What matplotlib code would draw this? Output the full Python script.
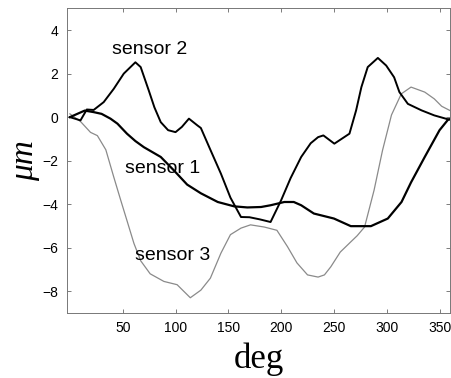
import matplotlib.pyplot as plt

# sensor curves (deg, um)
deg_s1 = [0, 14, 22.5, 30, 38.4, 45, 54, 62, 70, 86, 98.5, 111, 124, 140, 155.5, 168, 181, 190,
          203, 212, 219, 231, 250, 266, 285, 301, 314, 323, 336, 350, 358, 360]
um_s1 = [0, 0.3, 0.23, 0.15, -0.07, -0.3, -0.76, -1.1, -1.38, -1.83, -2.45, -3.1, -3.5, -3.9, -4.1,
         -4.15, -4.13, -4.05, -3.9, -3.9, -4.05, -4.43, -4.66, -5.01, -5.01, -4.66, -3.9, -3.0,
         -1.83, -0.6, -0.12, -0.1]

deg_s2 = [0, 10, 16, 22.5, 32, 41.5, 51, 62, 67, 74.7, 80, 86, 93, 100, 106, 112.7, 120.7, 124,
          133, 143, 152, 162, 170, 180, 190, 200, 209, 219, 228, 235, 240, 250.4, 264.7, 271,
          276, 282, 291.6, 299.5, 307, 312, 320, 333, 345, 358, 360]
um_s2 = [0, -0.15, 0.35, 0.33, 0.69, 1.3, 2.0, 2.52, 2.3, 1.22, 0.45, -0.23, -0.6, -0.69, -0.45,
         -0.07, -0.38, -0.5, -1.5, -2.6, -3.7, -4.59, -4.6, -4.7, -4.82, -3.82, -2.8, -1.83, -1.2,
         -0.92, -0.84, -1.22, -0.76, 0.31, 1.38, 2.3, 2.72, 2.37, 1.83, 1.15, 0.61, 0.31, 0.08,
         -0.1, -0.1]

deg_s3 = [0, 10, 19.5, 26, 34, 41.5, 48, 54, 60.6, 67, 76, 89, 101.5, 114, 124, 133, 143, 152,
          162, 171, 184, 196, 206, 215, 225, 235, 241, 247, 256, 266, 272, 279, 288, 296, 304.5,
          313.8, 323, 336, 345, 352, 360]
um_s3 = [0.15, -0.2, -0.7, -0.85, -1.5, -2.75, -3.8, -4.75, -5.8, -6.6, -7.2, -7.55, -7.7, -8.3,
         -7.95, -7.4, -6.25, -5.4, -5.1, -4.95, -5.05, -5.2, -5.95, -6.7, -7.25, -7.35, -7.25,
         -6.88, -6.2, -5.73, -5.45, -5.05, -3.36, -1.53, 0.1, 1.07, 1.38, 1.15, 0.84, 0.5, 0.3]

xticks = [50, 100, 150, 200, 250, 300, 350]
yticks = [-8, -6, -4, -2, 0, 2, 4]

fig = plt.figure(figsize=(4.51, 3.78), dpi=100)
ax = fig.add_axes([0.148, 0.172, 0.85, 0.806])

ax.plot(deg_s3, um_s3, color='#8a8a8a', lw=0.9)
ax.plot(deg_s1, um_s1, color='black', lw=1.6)
ax.plot(deg_s2, um_s2, color='black', lw=1.4)

# curve labels
ax.text(40, 3.1, 'sensor 2', fontsize=14, family='Liberation Sans', va='center')
ax.text(52.5, -2.37, 'sensor 1', fontsize=14, family='Liberation Sans', va='center')
ax.text(62, -6.35, 'sensor 3', fontsize=14, family='Liberation Sans', va='center')

ax.set_xlim(-3, 360)
ax.set_ylim(-9, 5)
ax.set_xticks(xticks)
ax.set_yticks(yticks)
ax.tick_params(direction='in', length=3, width=0.6, color='#666666',
               top=True, right=True, labelsize=10, pad=6)
for lab in ax.get_xticklabels() + ax.get_yticklabels():
    lab.set_family('Liberation Sans')
for sp in ax.spines.values():
    sp.set_color('#777777')
    sp.set_linewidth(0.7)

ax.set_xlabel('deg', fontsize=25, family='Liberation Serif', labelpad=5)
ax.set_ylabel('μm', fontsize=24, family='Liberation Serif', style='italic', labelpad=2)

fig.savefig('out.png', dpi=100)
